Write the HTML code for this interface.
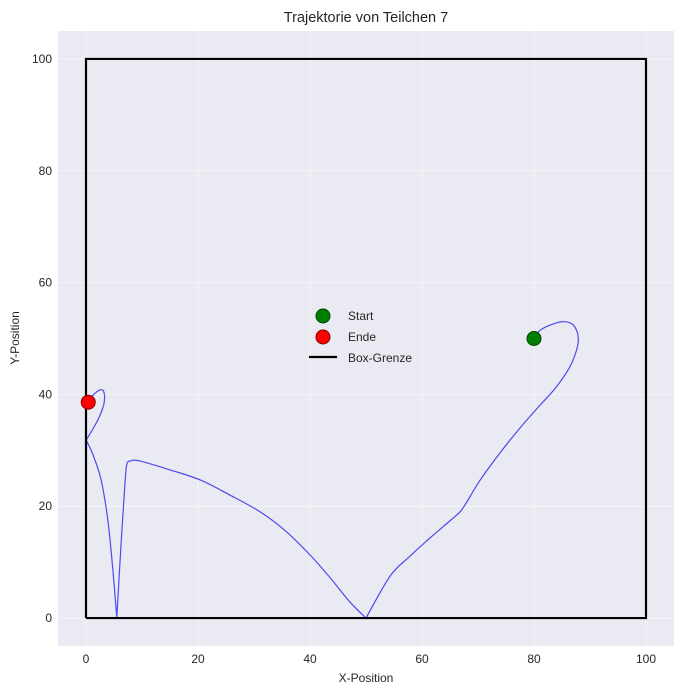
<!DOCTYPE html>
<html><head><meta charset="utf-8"><style>
body{margin:0;background:#fff;font-family:"Liberation Sans",sans-serif}
</style></head><body>
<svg id="c" width="683" height="694" xmlns="http://www.w3.org/2000/svg" font-family="Liberation Sans, sans-serif"></svg>
<script>
const xTicks=[0,20,40,60,80,100];
const yTicks=[0,20,40,60,80,100];
const pathX=[80,81,82.9,85,86.8,87.7,87.9,87.3,86.1,83.8,81.1,77.5,73.9,70.4,67.9,66.8,65,61.4,57.9,54.3,50,47.1,43.6,40,35.5,31.1,25.7,20.4,15,9.6,7.9,7.3,7,6.2,5.5,4.8,3.9,2.7,1.25,0.2,0,1.1,2.3,3.2,3.2,2.5,1.1,0.4];
const pathY=[50,51.4,52.4,53,52.6,51.2,49.4,47,44.4,41.1,38.1,34,29.5,24.7,20.6,19,17.4,14.3,11.1,7.5,0,2.9,7.2,11.3,15.7,19,22,24.7,26.5,28.1,28.1,27.5,24.7,12.2,0,8.6,17.5,24.7,29.2,31.5,31.8,33.6,35.8,38.3,40.4,40.8,39.7,38.6];
const boxX=[0,100,100,0,0], boxY=[0,0,100,100,0];
const startPt=[80,50], endPt=[0.4,38.6];
const L=58,R=674,T=31,B=646;
const sx=v=>L+(v+5)/110*(R-L), sy=v=>B-(v+5)/110*(B-T);
const svg=document.getElementById('c');const NS='http://www.w3.org/2000/svg';
function mk(t,a,p){const e=document.createElementNS(NS,t);for(const k in a)e.setAttribute(k,a[k]);(p||svg).appendChild(e);return e;}
const bg=mk('rect',{x:L,y:T,width:R-L,height:B-T,fill:'#eaeaf2'});


xTicks.forEach(v=>{const g=mk('line',{x1:sx(v),x2:sx(v),y1:T,y2:B,stroke:'#f7f7fa','stroke-width':0.8});


const t=mk('text',{x:sx(v),y:B+17,'text-anchor':'middle','font-size':12,fill:'#262626'});t.textContent=v;

});
yTicks.forEach(v=>{const g=mk('line',{x1:L,x2:R,y1:sy(v),y2:sy(v),stroke:'#f7f7fa','stroke-width':0.8});


const t=mk('text',{x:L-6,y:sy(v)+4,'text-anchor':'end','font-size':12,fill:'#262626'});t.textContent=v;

});
// smooth path, split at wall bounces
const P=pathX.map((x,i)=>[sx(x),sy(pathY[i])]);
const breaks=new Set();pathX.forEach((x,i)=>{if(pathY[i]<=0||x<=0)breaks.add(i);});
let d='M'+P[0][0]+','+P[0][1];
for(let i=0;i<P.length-1;i++){
 const p0=(i>0&&!breaks.has(i))?P[i-1]:P[i], p1=P[i], p2=P[i+1], p3=(i+2<P.length&&!breaks.has(i+1))?P[i+2]:P[i+1];
 const c1=[p1[0]+(p2[0]-p0[0])/6,p1[1]+(p2[1]-p0[1])/6], c2=[p2[0]-(p3[0]-p1[0])/6,p2[1]-(p3[1]-p1[1])/6];
 d+=' C'+c1+' '+c2+' '+p2;
}
const tr=mk('path',{d:d,fill:'none',stroke:'#3a3af0','stroke-width':1.2,'stroke-opacity':0.9,'stroke-linejoin':'round'});


const bx=mk('polyline',{points:boxX.map((x,i)=>sx(x)+','+sy(boxY[i])).join(' '),fill:'none',stroke:'#000','stroke-width':2.2});


const s=mk('circle',{cx:sx(startPt[0]),cy:sy(startPt[1]),r:7,fill:'#008000',stroke:'#004000','stroke-width':1});


const e=mk('circle',{cx:sx(endPt[0]),cy:sy(endPt[1]),r:7,fill:'#ff0000',stroke:'#800000','stroke-width':1});


const lg=mk('g',{});


mk('circle',{cx:323,cy:316,r:7,fill:'#008000',stroke:'#004000'},lg);
mk('circle',{cx:323,cy:337,r:7,fill:'#ff0000',stroke:'#800000'},lg);
mk('line',{x1:309,x2:337,y1:357,y2:357,stroke:'#000','stroke-width':2.2},lg);
[['Start',316],['Ende',337],['Box-Grenze',358]].forEach(([t,y])=>{const el=mk('text',{x:348,y:y+4,'font-size':12,fill:'#262626'},lg);el.textContent=t;

});
const ti=mk('text',{x:366,y:22,'text-anchor':'middle','font-size':14.5,fill:'#262626'});ti.textContent='Trajektorie von Teilchen 7';


const xl=mk('text',{x:366,y:682,'text-anchor':'middle','font-size':12,fill:'#262626'});xl.textContent='X-Position';


const yl=mk('text',{x:19,y:338,'text-anchor':'middle','font-size':12,fill:'#262626',transform:'rotate(-90 19 338)'});yl.textContent='Y-Position';


</script>
</body></html>
